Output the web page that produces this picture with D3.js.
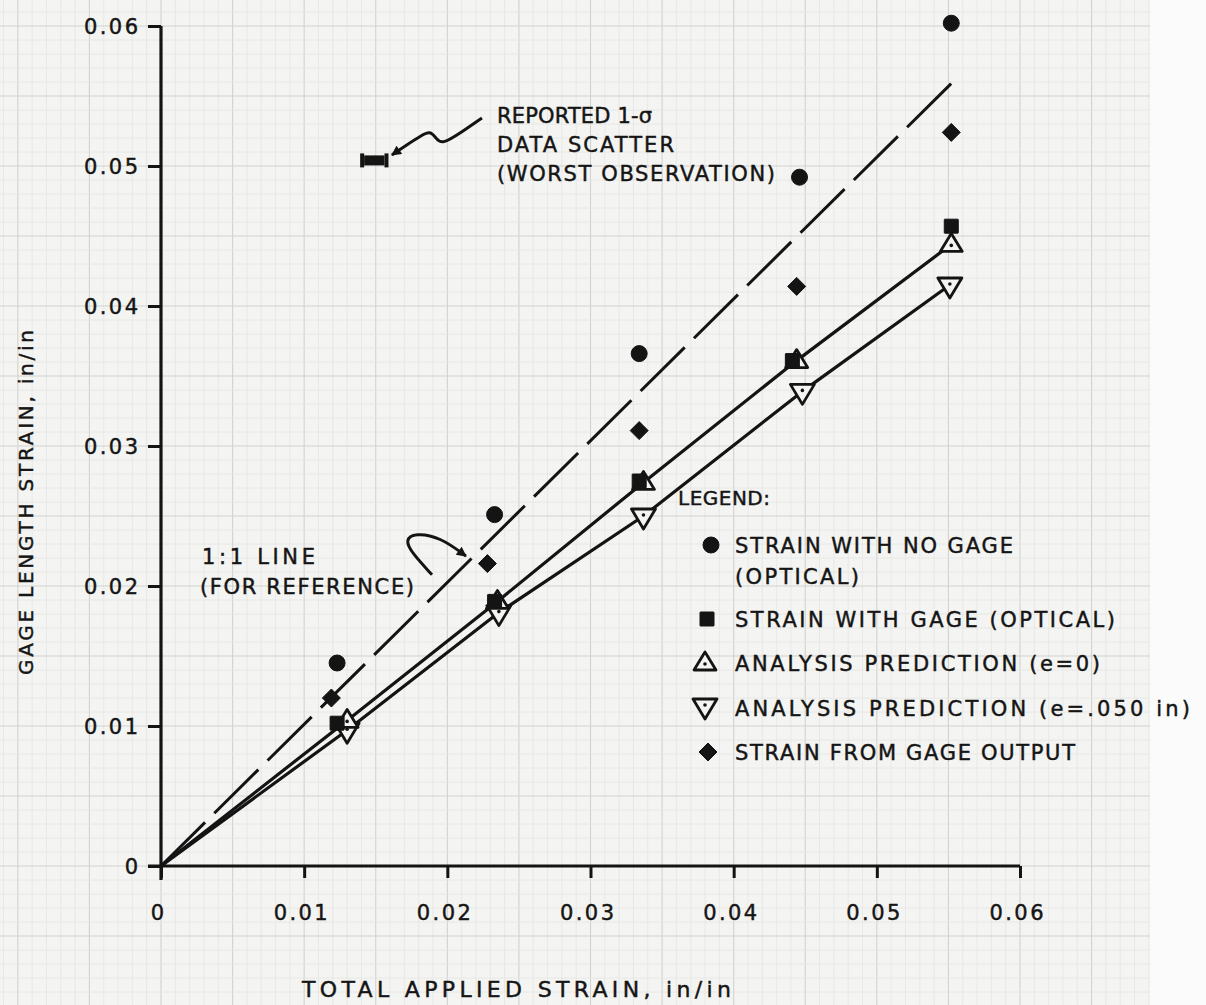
<!DOCTYPE html>
<html>
<head>
<meta charset="utf-8">
<script src="https://cdn.jsdelivr.net/npm/d3@7"></script>
<style>
  body { margin: 0; background: #fafafa; }
  svg text { font-family: "DejaVu Sans", "Liberation Sans", sans-serif; fill: #151515; stroke: #151515; stroke-width: 0.45; }
</style>
</head>
<body>
<div id="chart"></div>
<script>
// ---- data ----
const tickValues = [0, 0.01, 0.02, 0.03, 0.04, 0.05, 0.06];
const tickLabels = ["0", "0.01", "0.02", "0.03", "0.04", "0.05", "0.06"];

// strain with no gage (optical) - filled circles
const noGageX = [0.0123, 0.0233, 0.0334, 0.0446, 0.0552];
const noGageY = [0.0145, 0.0251, 0.0366, 0.0492, 0.0602];
// strain with gage (optical) - filled squares
const gageOptX = [0.0123, 0.0233, 0.0334, 0.0441, 0.0552];
const gageOptY = [0.0102, 0.0189, 0.0275, 0.0361, 0.0457];
// analysis prediction (e=0) - open up triangles
const predE0X = [0.0130, 0.0235, 0.0337, 0.0444, 0.0552];
const predE0Y = [0.0104, 0.0189, 0.0274, 0.0361, 0.0444];
// analysis prediction (e=.050 in) - open down triangles
const predE05X = [0.0130, 0.0236, 0.0337, 0.0448, 0.0551];
const predE05Y = [0.0097, 0.0181, 0.0250, 0.0339, 0.0415];
// strain from gage output - filled diamonds
const gageOutX = [0.0119, 0.0228, 0.0334, 0.0444, 0.0552];
const gageOutY = [0.0120, 0.0216, 0.0311, 0.0414, 0.0524];

// 1:1 reference line (as drawn)
const oneToOneX = [0, 0.0555];
const oneToOneY = [0, 0.0562];

// reported 1-sigma scatter marker
const scatterX = 0.0149, scatterY = 0.0504, scatterHalf = 0.00085;

// annotation leader paths (data units)
const squiggle = [[0.02242, 0.05343], [0.02102, 0.05243], [0.01960, 0.05150],
  [0.01921, 0.05200], [0.01879, 0.05250], [0.01823, 0.05221], [0.01704, 0.05143], [0.01613, 0.05079]];
const refArrow = [[0.01893, 0.02080], [0.01753, 0.02236], [0.01704, 0.02329],
  [0.01774, 0.02379], [0.01949, 0.02350], [0.02130, 0.02214]];

const legendItems = [
  { kind: "circle", lines: ["STRAIN WITH NO GAGE", "(OPTICAL)"], len: [278, 124] },
  { kind: "square", lines: ["STRAIN WITH GAGE (OPTICAL)"], len: [380] },
  { kind: "up", lines: ["ANALYSIS PREDICTION (e=0)"], len: [365] },
  { kind: "down", lines: ["ANALYSIS PREDICTION (e=.050 in)"], len: [455] },
  { kind: "diamond", lines: ["STRAIN FROM GAGE OUTPUT"], len: [340] }
];

// ---- setup ----
const W = 1206, H = 1005;
const svg = d3.select("#chart").append("svg")
  .attr("width", W).attr("height", H);

const x = d3.scaleLinear().domain([0, 0.06]).range([161, 1020]);
const y = d3.scaleLinear().domain([0, 0.06]).range([866, 26]);

const ink = "#141414";
const paper = "#f4f4f2";

// graph paper
svg.append("rect").attr("width", W).attr("height", H).attr("fill", "#fbfbfb");
svg.append("rect").attr("width", 1150).attr("height", H).attr("fill", paper);

const grid = svg.append("g");
const xi0 = Math.ceil(x.invert(0) * 1000), xi1 = Math.floor(x.invert(1150) * 1000);
const yi0 = Math.ceil(y.invert(H) * 1000), yi1 = Math.floor(y.invert(0) * 1000);
d3.range(xi0, xi1 + 1).forEach(i => {
  grid.append("line")
    .attr("x1", x(i / 1000)).attr("x2", x(i / 1000))
    .attr("y1", 0).attr("y2", H)
    .attr("stroke", i % 5 === 0 ? "#d2d2d0" : "#e5e5e3")
    .attr("stroke-width", i % 5 === 0 ? 1.1 : 0.8);
});
d3.range(yi0, yi1 + 1).forEach(i => {
  grid.append("line")
    .attr("x1", 0).attr("x2", 1150)
    .attr("y1", y(i / 1000)).attr("y2", y(i / 1000))
    .attr("stroke", i % 5 === 0 ? "#d2d2d0" : "#e5e5e3")
    .attr("stroke-width", i % 5 === 0 ? 1.1 : 0.8);
});

// ---- axes ----
const yAxis = svg.append("g")
  .attr("transform", `translate(${x(0)},0)`)
  .call(d3.axisLeft(y).tickValues(tickValues).tickSize(13).tickSizeOuter(0)
    .tickPadding(10).tickFormat((d, i) => tickLabels[i]));
const xAxis = svg.append("g")
  .attr("transform", `translate(0,${y(0)})`)
  .call(d3.axisBottom(x).tickValues(tickValues).tickSize(12).tickSizeOuter(0)
    .tickPadding(27).tickFormat((d, i) => tickLabels[i]));

[yAxis, xAxis].forEach(g => {
  g.select(".domain").remove();
  g.selectAll(".tick line").attr("stroke", ink).attr("stroke-width", 3);
  g.selectAll(".tick text").attr("font-size", 21).attr("fill", ink)
    .attr("textLength", d => d === 0 ? null : 54)
    .attr("lengthAdjust", "spacing")
    .style("font-family", "'DejaVu Sans', sans-serif");
});
xAxis.selectAll(".tick text").attr("dx", -4);
yAxis.selectAll(".tick text").attr("dy", "0.34em");

svg.append("line")
  .attr("x1", x(0)).attr("x2", x(0))
  .attr("y1", y(0.06)).attr("y2", y(0) + 14)
  .attr("stroke", ink).attr("stroke-width", 3.2);
svg.append("line")
  .attr("x1", x(0) - 13).attr("x2", x(0.06))
  .attr("y1", y(0)).attr("y2", y(0))
  .attr("stroke", ink).attr("stroke-width", 3.2);

// axis titles
svg.append("text")
  .attr("x", 302).attr("y", 997)
  .attr("font-size", 22)
  .attr("textLength", 429).attr("lengthAdjust", "spacing")
  .text("TOTAL APPLIED STRAIN, in/in");
svg.append("text")
  .attr("transform", "translate(33,675) rotate(-90)")
  .attr("font-size", 20)
  .attr("textLength", 345).attr("lengthAdjust", "spacing")
  .text("GAGE LENGTH STRAIN, in/in");

// ---- lines ----
const line = d3.line().x(d => x(d[0])).y(d => y(d[1]));
const curve = d3.line().x(d => x(d[0])).y(d => y(d[1])).curve(d3.curveBasis);

svg.append("path")
  .datum(oneToOneX.map((v, i) => [v, oneToOneY[i]]))
  .attr("d", line)
  .attr("fill", "none").attr("stroke", ink)
  .attr("stroke-width", 3).attr("stroke-dasharray", "62,13");

svg.append("path")
  .datum([[0, 0]].concat(predE0X.map((v, i) => [v, predE0Y[i]])))
  .attr("d", line)
  .attr("fill", "none").attr("stroke", ink).attr("stroke-width", 3.2)
  .attr("stroke-linejoin", "round");

svg.append("path")
  .datum([[0, 0]].concat(predE05X.map((v, i) => [v, predE05Y[i]])))
  .attr("d", line)
  .attr("fill", "none").attr("stroke", ink).attr("stroke-width", 3.2)
  .attr("stroke-linejoin", "round");

// ---- marker shapes ----
const shapes = {
  circle: "M8,0A8,8 0 1,1 -8,0A8,8 0 1,1 8,0Z",
  square: "M-7,-6.5Q-7,-7 -6.5,-7L6.5,-7Q7,-7 7,-6.5L7,6.5Q7,7 6.5,7L-6.5,7Q-7,7 -7,6.5Z",
  diamond: "M0,-9L9,0L0,9L-9,0Z",
  up: "M0,-11L11,7L-11,7Z",
  down: "M-12,-7L12,-7L0,13Z"
};

function drawMark(g, kind, px, py) {
  const open = kind === "up" || kind === "down";
  g.append("path")
    .attr("transform", `translate(${px},${py})`)
    .attr("d", shapes[kind])
    .attr("fill", open ? paper : ink)
    .attr("stroke", ink)
    .attr("stroke-width", open ? 2.8 : 1)
    .attr("stroke-linejoin", "round");
  if (open) {
    g.append("circle").attr("cx", px).attr("cy", py + (kind === "up" ? 1 : -1))
      .attr("r", 1.8).attr("fill", ink);
  }
}

const marks = svg.append("g");
predE05X.forEach((v, i) => drawMark(marks, "down", x(v), y(predE05Y[i])));
predE0X.forEach((v, i) => drawMark(marks, "up", x(v), y(predE0Y[i])));
gageOptX.forEach((v, i) => drawMark(marks, "square", x(v), y(gageOptY[i])));
gageOutX.forEach((v, i) => drawMark(marks, "diamond", x(v), y(gageOutY[i])));
noGageX.forEach((v, i) => drawMark(marks, "circle", x(v), y(noGageY[i])));

// ---- 1-sigma scatter symbol ----
const sx0 = x(scatterX - scatterHalf), sx1 = x(scatterX + scatterHalf), sy = y(scatterY);
svg.append("rect").attr("x", sx0 + 2).attr("y", sy - 5)
  .attr("width", sx1 - sx0 - 4).attr("height", 10).attr("fill", ink);
[sx0, sx1].forEach(sx => {
  svg.append("line").attr("x1", sx).attr("x2", sx)
    .attr("y1", sy - 7).attr("y2", sy + 7)
    .attr("stroke", ink).attr("stroke-width", 4);
});

// ---- leaders ----
const defs = svg.append("defs");
defs.append("marker").attr("id", "arrow")
  .attr("viewBox", "0 0 10 10").attr("refX", 9).attr("refY", 5)
  .attr("markerWidth", 13).attr("markerHeight", 10)
  .attr("markerUnits", "userSpaceOnUse")
  .attr("orient", "auto")
  .append("path").attr("d", "M0,0L10,5L0,10Z").attr("fill", ink);

svg.append("path").datum(squiggle).attr("d", curve)
  .attr("fill", "none").attr("stroke", ink).attr("stroke-width", 3)
  .attr("marker-end", "url(#arrow)");
svg.append("path").datum(refArrow).attr("d", curve)
  .attr("fill", "none").attr("stroke", ink).attr("stroke-width", 3)
  .attr("marker-end", "url(#arrow)");

// ---- annotation text ----
function label(tx, ty, str, len, size) {
  return svg.append("text")
    .attr("x", tx).attr("y", ty)
    .attr("font-size", size || 21)
    .attr("textLength", len).attr("lengthAdjust", "spacing")
    .text(str);
}
label(497, 123, "REPORTED 1-σ", 155);
label(497, 152, "DATA SCATTER", 177);
label(497, 181, "(WORST OBSERVATION)", 278);
label(202, 564, "1:1 LINE", 113);
label(200, 594, "(FOR REFERENCE)", 214);

// ---- legend ----
label(678, 505, "LEGEND:", 92, 20);
const legendRows = [553, 627, 671, 716, 760];
const legendMarkX = [711, 707, 705, 705, 708];
legendItems.forEach((item, i) => {
  const by = legendRows[i];
  drawMark(svg, item.kind, legendMarkX[i], by - 8 + (item.kind === "down" ? -2 : 0));
  item.lines.forEach((ln, j) => label(735, by + j * 31, ln, item.len[j]));
});
</script>
</body>
</html>
